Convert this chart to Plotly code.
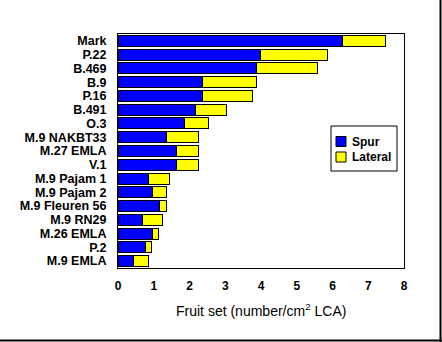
import plotly.graph_objects as go

categories = ["Mark", "P.22", "B.469", "B.9", "P.16", "B.491", "O.3", "M.9 NAKBT33",
              "M.27 EMLA", "V.1", "M.9 Pajam 1", "M.9 Pajam 2", "M.9 Fleuren 56",
              "M.9 RN29", "M.26 EMLA", "P.2", "M.9 EMLA"]
spur = [6.28, 3.98, 3.87, 2.36, 2.36, 2.17, 1.85, 1.37, 1.65, 1.65, 0.86, 0.96, 1.17,
        0.68, 0.96, 0.77, 0.44]
total = [7.49, 5.86, 5.58, 3.86, 3.75, 3.04, 2.54, 2.26, 2.26, 2.26, 1.45, 1.36, 1.36,
         1.25, 1.13, 0.94, 0.85]
lateral = [round(t - s, 2) for t, s in zip(total, spur)]
x_ticks = [0, 1, 2, 3, 4, 5, 6, 7, 8]
series_names = ["Spur", "Lateral"]
series_colors = ["#0000FF", "#FFFF00"]

W, H = 442, 342
L, R, T, B = 118, 404, 34, 268
pw, ph = R - L, B - T

def px(x):
    return (x - L) / pw

def py(y):
    return (B - y) / ph

FONT = "Liberation Sans, Arial, sans-serif"

fig = go.Figure()
for name, vals, col in zip(series_names, [spur, lateral], series_colors):
    fig.add_trace(go.Bar(y=categories, x=vals, orientation="h", name=name,
                         marker=dict(color=col, line=dict(color="black", width=1))))

shapes = [
    dict(type="line", xref="paper", yref="paper", x0=px(440.5), x1=px(440.5),
         y0=py(0), y1=py(342), line=dict(color="black", width=2)),
    dict(type="line", xref="paper", yref="paper", x0=px(0), x1=px(442),
         y0=py(340.5), y1=py(340.5), line=dict(color="black", width=2)),
    # legend box
    dict(type="rect", xref="paper", yref="paper", x0=px(331), x1=px(397),
         y0=py(126), y1=py(171), line=dict(color="black", width=1), fillcolor="white"),
]
annotations = [dict(text="Fruit set (number/cm<sup>2</sup> LCA)", xref="paper", yref="paper",
                    x=0.5, y=py(310), xanchor="center", yanchor="middle",
                    showarrow=False, font=dict(size=14, family=FONT))]
for i, (name, col) in enumerate(zip(series_names, series_colors)):
    cy = 141.5 + i * 15.5
    shapes.append(dict(type="rect", xref="paper", yref="paper", x0=px(336), x1=px(346),
                       y0=py(cy - 5), y1=py(cy + 5), fillcolor=col,
                       line=dict(color="black", width=1)))
    annotations.append(dict(text=name, xref="paper", yref="paper", x=px(350), y=py(cy),
                            xanchor="left", yanchor="middle", showarrow=False,
                            font=dict(size=12, weight="bold", family=FONT)))

fig.update_layout(
    barmode="stack",
    bargap=0.2,
    width=W, height=H,
    margin=dict(l=L, r=W - R, t=T, b=H - B, pad=0),
    paper_bgcolor="white", plot_bgcolor="white",
    font=dict(family=FONT, color="black"),
    showlegend=False,
    xaxis=dict(range=[0, 8], tickvals=x_ticks, ticks="", showgrid=False, zeroline=False,
               showline=True, linecolor="black", linewidth=1, mirror=True,
               tickfont=dict(size=12, weight="bold", family=FONT),
               ticklabelstandoff=7, fixedrange=True),
    yaxis=dict(autorange="reversed", tickmode="linear", dtick=1, ticks="",
               showgrid=False, zeroline=False,
               showline=True, linecolor="black", linewidth=1, mirror=True,
               tickfont=dict(size=12.5, weight="bold", family=FONT),
               ticklabelstandoff=8),
    annotations=annotations,
    shapes=shapes,
)

fig.write_html("out.html")
